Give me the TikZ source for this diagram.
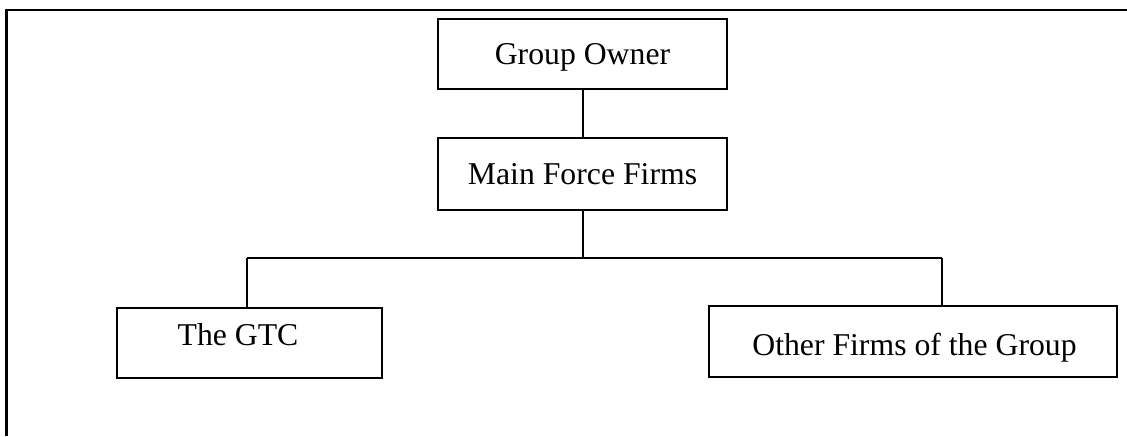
\documentclass[tikz,border=0pt]{standalone}
\usepackage{fontspec}
\setmainfont{Liberation Serif}
\begin{document}
\begin{tikzpicture}[x=0.75pt,y=-0.75pt,
  line width=1.5pt,
  every node/.style={font=\fontsize{23.8pt}{28pt}\selectfont, inner sep=0pt, outer sep=0pt},
  orgbox/.style={draw, rectangle, line width=1.5pt, text height=16.2pt, text depth=0pt},
  link/.style={draw, line width=1.5pt},
  frameline/.style={draw, line width=1.6pt}
]
\useasboundingbox (0,0) rectangle (1127,436);

% outer frame (top and left edges)
\draw[frameline] (6.5,436) -- (6.5,10) -- (1127,10);

% boxes
\node[orgbox, minimum width=216.75pt, minimum height=52.5pt] (owner) at (582.5,54) {Group Owner};
\node[orgbox, minimum width=216.75pt, minimum height=54pt] (mff) at (582.5,174) {Main Force Firms};
\node[orgbox, minimum width=198.75pt, minimum height=52.5pt] (gtc) at (249.5,343) {};
\node[anchor=base] (gtctext) at (238,345) {The GTC};
\node[orgbox, minimum width=306pt, minimum height=53.25pt] (other) at (913,341.5) {};
\node[anchor=base] (othertext) at (914.5,355) {Other Firms of the Group};

% connectors
\coordinate (barL) at (247,258);
\coordinate (barR) at (941.5,258);
\draw[link] (owner.south) -- (mff.north);
\draw[link] (mff.south) -- (mff.south |- barL);
\draw[link] (barL) -- (barR);
\draw[link] (barL) -- (barL |- gtc.north);
\draw[link] (barR) -- (barR |- other.north);
\end{tikzpicture}
\end{document}
